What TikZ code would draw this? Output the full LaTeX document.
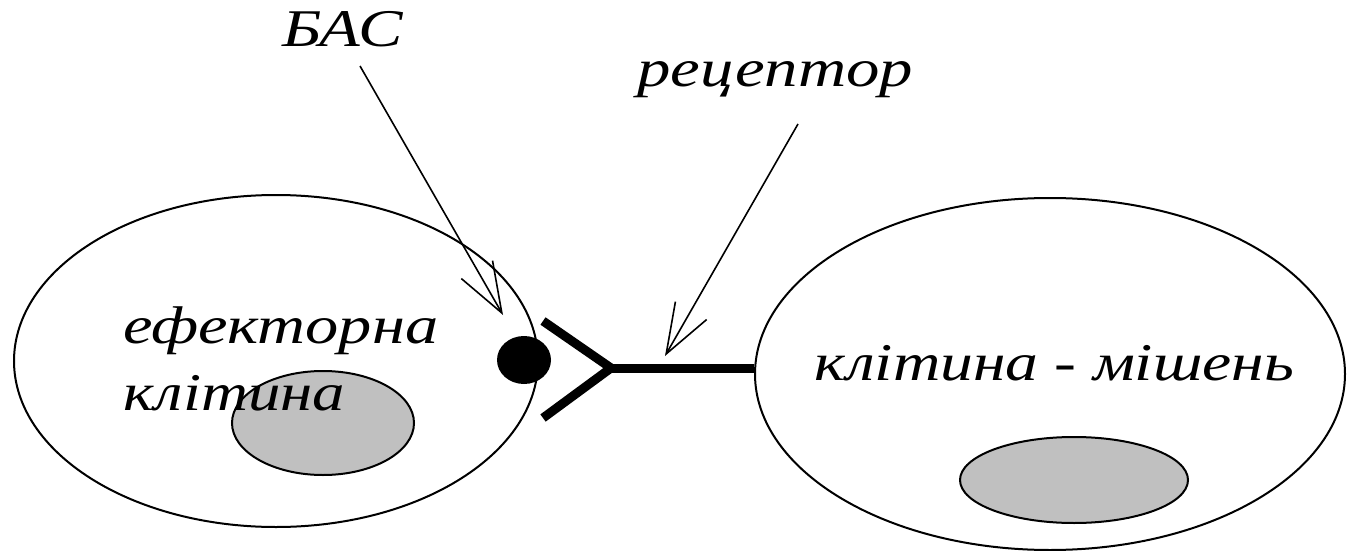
\documentclass[tikz,border=0pt]{standalone}
\usepackage{fontspec}
\usepackage{graphicx}
\setmainfont{Liberation Serif}
\usetikzlibrary{shapes.geometric,arrows.meta}
\definecolor{nuc}{RGB}{192,192,192}
\begin{document}
\begin{tikzpicture}[x=1pt,y=-1pt,
  cell/.style={draw,line width=2pt,ellipse,inner sep=0},
  nucleus/.style={draw,line width=2pt,ellipse,fill=nuc,inner sep=0},
  lbl/.style={inner sep=0,anchor=base west,font=\fontsize{53}{60}\selectfont\itshape},
  ptr/.style={line width=1.6pt,-{Straight Barb[length=50pt,width=36pt,line width=1.6pt]}},
  rec/.style={line width=9pt}]
\useasboundingbox[fill=white] (0,0) rectangle (1347,551);
% cells
\node[cell,minimum width=524pt,minimum height=332pt] (eff) at (276,361) {};
\node[nucleus,minimum width=182pt,minimum height=104pt] (effn) at (323,423) {};
\node[cell,minimum width=590pt,minimum height=352pt] (tgt) at (1050,374) {};
\node[nucleus,minimum width=228pt,minimum height=86pt] (tgtn) at (1074,480) {};
% signal molecule
\node[fill,ellipse,minimum width=54pt,minimum height=48pt,inner sep=0] (bac) at (524,360) {};
% receptor
\coordinate (vtop) at (543,321);
\coordinate (vbot) at (543,418);
\coordinate (vx) at (611,368);
\draw[rec] (vtop) -- (vx) -- (vbot);
\draw[rec] (vx) -- (vx -| tgt.west);
% labels
\node[lbl] (tBAC) at (282,47) {\resizebox{121pt}{\height}{БАС}};
\node[lbl] (tRec) at (637,87) {\resizebox{276pt}{\height}{рецептор}};
\node[lbl] (tEff1) at (123,343) {\resizebox{315pt}{\height}{ефекторна}};
\node[lbl] (tEff2) at (123,410) {\resizebox{222pt}{\height}{клітина}};
\node[lbl] (tTgt) at (814,380) {\resizebox{480pt}{\height}{клітина - мішень}};
% pointers
\coordinate (bacFrom) at (360,66);
\coordinate (bacTo) at (503,315);
\draw[ptr] (bacFrom) -- (bacTo);
\coordinate (recFrom) at (798,124);
\coordinate (recTo) at (665,356);
\draw[ptr] (recFrom) -- (recTo);
\end{tikzpicture}
\end{document}
